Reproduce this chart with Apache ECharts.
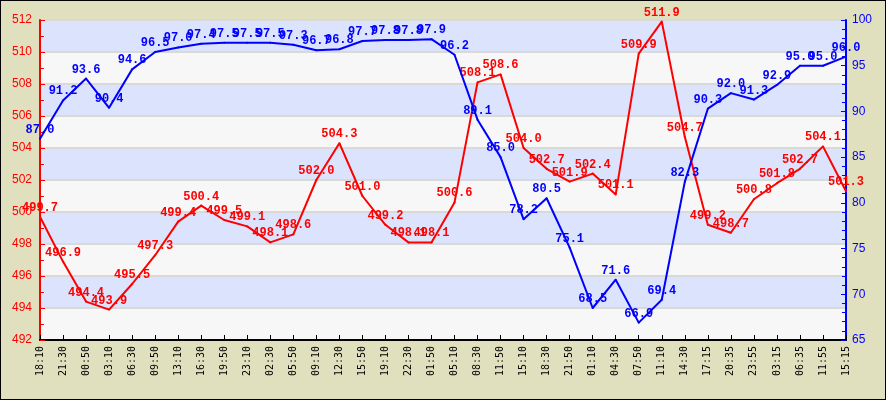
<!DOCTYPE html>
<html>
<head>
<meta charset="utf-8">
<script src="https://cdn.jsdelivr.net/npm/echarts@6/dist/echarts.min.js"></script>
<style>
  html, body { margin: 0; padding: 0; background: #fff; }
  #main { width: 886px; height: 400px; box-sizing: border-box; border: 1px solid #000; background: #E1E0BE; }
</style>
</head>
<body>
<div id="main"></div>
<script>
// time labels along the bottom
const times = ["18:10", "21:30", "00:50", "03:10", "06:30", "09:50", "13:10", "16:30", "19:50", "23:10",
  "02:30", "05:50", "09:10", "12:30", "15:50", "19:10", "22:30", "01:50", "05:10", "08:30",
  "11:50", "15:10", "18:30", "21:50", "01:10", "04:30", "07:50", "11:10", "14:30", "17:15",
  "20:35", "23:55", "03:15", "06:35", "11:55", "15:15"];

// red series, left axis
const pressure = [499.7, 496.9, 494.4, 493.9, 495.5, 497.3, 499.4, 500.4, 499.5, 499.1,
  498.1, 498.6, 502.0, 504.3, 501.0, 499.2, 498.1, 498.1, 500.6, 508.1,
  508.6, 504.0, 502.7, 501.9, 502.4, 501.1, 509.9, 511.9, 504.7, 499.2,
  498.7, 500.8, 501.8, 502.7, 504.1, 501.3];

// blue series, right axis
const humidity = [87.0, 91.2, 93.6, 90.4, 94.6, 96.5, 97.0, 97.4, 97.5, 97.5,
  97.5, 97.3, 96.7, 96.8, 97.7, 97.8, 97.8, 97.9, 96.2, 89.1,
  85.0, 78.2, 80.5, 75.1, 68.5, 71.6, 66.9, 69.4, 82.3, 90.3,
  92.0, 91.3, 92.9, 95.0, 95.0, 96.0];

const myChart = echarts.init(document.getElementById("main"));

// value labels sit just above each point
function pointLabel(color) {
  return {
    show: true,
    position: "top",
    distance: 2,
    color: color,
    fontFamily: "Liberation Mono",
    fontWeight: "bold",
    fontSize: 12,
    formatter: (p) => Number(p.value).toFixed(1),
  };
}

const option = {
  animation: false,
  grid: { left: 39, right: 39, top: 19, bottom: 59 },
  xAxis: {
    type: "category",
    boundaryGap: false,
    data: times,
    axisLine: { lineStyle: { color: "#000", width: 2 } },
    axisTick: { inside: true, length: 5, lineStyle: { color: "#000" } },
    axisLabel: {
      rotate: 90,
      interval: 0,
      margin: 6,
      color: "#000",
      fontFamily: "DejaVu Sans Mono",
      fontSize: 10,
    },
  },
  yAxis: [
    {
      type: "value",
      min: 492,
      max: 512,
      interval: 2,
      position: "left",
      axisLine: { show: true, lineStyle: { color: "#FF0000", width: 2 } },
      axisTick: { show: true, inside: true, length: 5, lineStyle: { color: "#FF0000" } },
      minorTick: { show: true, splitNumber: 2, length: 4, lineStyle: { color: "#FF0000" } },
      axisLabel: { color: "#FF0000", fontFamily: "Liberation Sans", fontSize: 12, margin: 8 },
      splitLine: { show: true, lineStyle: { color: "#D9D9D9", width: 2 } },
      splitArea: { show: true, areaStyle: { color: ["#F7F7F7", "#DCE3FD"] } },
    },
    {
      type: "value",
      min: 65,
      max: 100,
      interval: 5,
      position: "right",
      axisLine: { show: true, lineStyle: { color: "#0000FF", width: 2 } },
      axisTick: { show: true, inside: true, length: 5, lineStyle: { color: "#0000FF" } },
      minorTick: { show: true, splitNumber: 5, length: 4, lineStyle: { color: "#0000FF" } },
      axisLabel: { color: "#0000FF", fontFamily: "Liberation Sans", fontSize: 12, margin: 6 },
      splitLine: { show: false },
    },
  ],
  series: [
    {
      name: "pressure",
      type: "line",
      yAxisIndex: 0,
      symbol: "circle",
      symbolSize: 2,
      showSymbol: true,
      showAllSymbol: true,
      itemStyle: { color: "#FF0000" },
      data: pressure,
      lineStyle: { color: "#FF0000", width: 2 },
      label: pointLabel("#FF0000"),
      labelLayout: { hideOverlap: false },
      z: 2,
    },
    {
      name: "humidity",
      type: "line",
      yAxisIndex: 1,
      symbol: "circle",
      symbolSize: 2,
      showSymbol: true,
      showAllSymbol: true,
      itemStyle: { color: "#0000FF" },
      data: humidity,
      lineStyle: { color: "#0000FF", width: 2 },
      label: pointLabel("#0000FF"),
      labelLayout: { hideOverlap: false },
      z: 3,
    },
  ],
};

myChart.setOption(option);
</script>
</body>
</html>
